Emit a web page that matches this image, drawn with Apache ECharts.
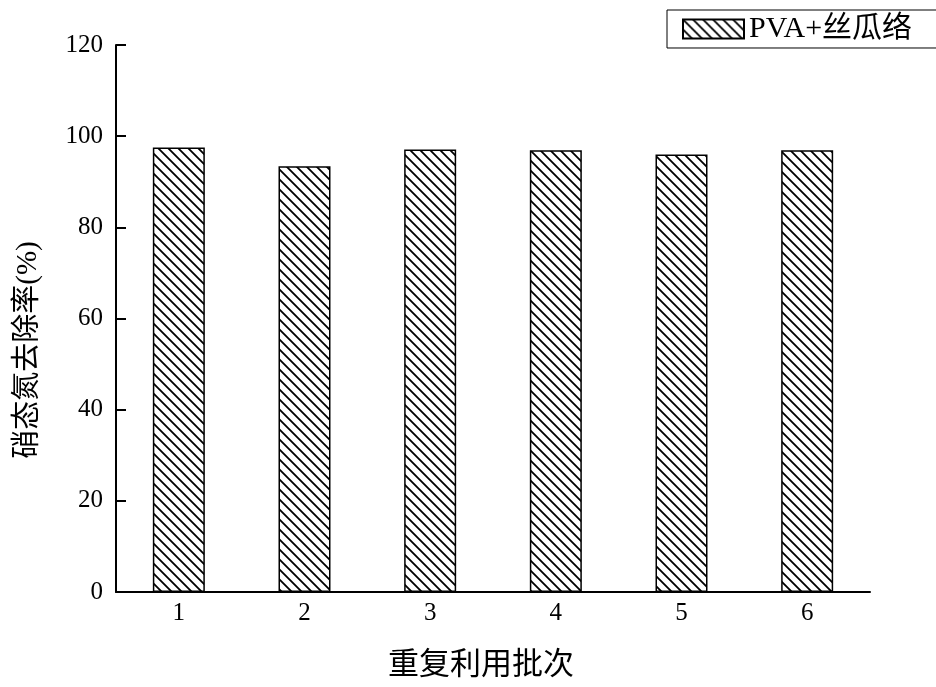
<!DOCTYPE html>
<html>
<head>
<meta charset="utf-8">
<script src="https://cdn.jsdelivr.net/npm/echarts@6/dist/echarts.min.js"></script>
<style>
  html, body { margin: 0; padding: 0; background: #fff; }
  #chart { width: 936px; height: 687px; }
</style>
</head>
<body>
<div id="chart"></div>
<script>
// Batch numbers and nitrate-nitrogen removal rate (%) per reuse batch
const batches = ['1', '2', '3', '4', '5', '6'];
const removalRate = [97.5, 93.4, 97.1, 96.9, 96.0, 96.9];
const seriesName = 'PVA+丝瓜络';
const xTitle = '重复利用批次';
const yTitle = '硝态氮去除率(%)';
const yTicks = { min: 0, max: 120, interval: 20 };

const FONT = '"Liberation Serif", "Times New Roman", "Noto Sans CJK SC", serif';

// Diagonal hatch tile ("\" lines) used as the bar fill
function hatchTile() {
  const s = 10;
  const c = document.createElement('canvas');
  c.width = s; c.height = s;
  const g = c.getContext('2d');
  g.fillStyle = '#fff';
  g.fillRect(0, 0, s, s);
  g.strokeStyle = '#000';
  g.lineWidth = 1.8;
  g.beginPath();
  g.moveTo(-2, -2); g.lineTo(s + 2, s + 2);
  g.moveTo(-2, s - 2); g.lineTo(2, s + 2);
  g.moveTo(s - 2, -2); g.lineTo(s + 2, 2);
  g.stroke();
  return c;
}

const chart = echarts.init(document.getElementById('chart'), null, { renderer: 'canvas' });
const hatch = { image: hatchTile(), repeat: 'repeat' };

chart.setOption({
  backgroundColor: '#fff',
  animation: false,
  textStyle: { fontFamily: FONT, color: '#000' },
  grid: { left: 116, right: 66, top: 45, bottom: 95, containLabel: false, outerBoundsMode: 'none' },
  legend: {
    left: 667,
    top: 10,
    data: [seriesName],
    icon: 'rect',
    itemWidth: 61,
    itemHeight: 19,
    itemGap: 4,
    borderColor: '#000',
    borderWidth: 1,
    padding: [4, 60, 4, 15],
    textStyle: { fontFamily: FONT, fontSize: 30, color: '#000' }
  },
  // Axis titles placed as text elements
  graphic: [
    {
      type: 'text',
      x: 481, y: 666,
      style: { text: xTitle, font: '31px ' + FONT, fill: '#000', align: 'center', verticalAlign: 'middle' }
    },
    {
      type: 'text',
      x: 28, y: 350,
      rotation: Math.PI / 2,
      style: { text: yTitle, font: '29px ' + FONT, fill: '#000', align: 'center', verticalAlign: 'middle' }
    }
  ],
  xAxis: {
    type: 'category',
    data: batches,
    axisLine: { lineStyle: { color: '#000', width: 2 } },
    axisTick: { show: false },
    axisLabel: { fontFamily: FONT, fontSize: 25, color: '#000', margin: 9 },
    splitLine: { show: false }
  },
  yAxis: {
    type: 'value',
    min: yTicks.min,
    max: yTicks.max,
    interval: yTicks.interval,
    axisLine: { show: true, lineStyle: { color: '#000', width: 2 } },
    axisTick: { show: true, inside: true, length: 10, lineStyle: { color: '#000', width: 2 } },
    axisLabel: { fontFamily: FONT, fontSize: 25, color: '#000', margin: 13 },
    splitLine: { show: false }
  },
  series: [{
    name: seriesName,
    type: 'bar',
    data: removalRate,
    barWidth: 52,
    itemStyle: { color: hatch, borderColor: '#000', borderWidth: 1.5 }
  }]
});
</script>
</body>
</html>
